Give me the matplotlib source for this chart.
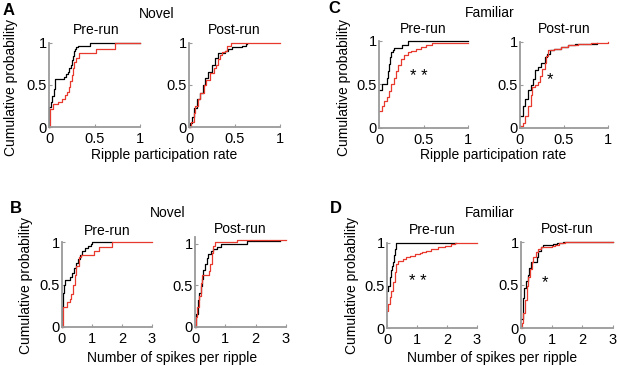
import matplotlib
matplotlib.use("Agg")
import matplotlib.pyplot as plt

plt.rcParams['font.family'] = ['Liberation Sans', 'DejaVu Sans']
plt.rcParams['font.size'] = 10

W, H = 617, 366

# ---- data (step points: x, cumulative probability) ----
# A: ripple participation rate, novel
a_pre_black_x = [0.0, 0.0, 0.02, 0.035, 0.05, 0.065, 0.17, 0.19, 0.21, 0.225, 0.24, 0.25, 0.26, 0.27, 0.285, 0.30, 0.32, 0.45, 1.0]
a_pre_black_y = [0.0, 0.24, 0.30, 0.37, 0.45, 0.57, 0.60, 0.63, 0.66, 0.70, 0.74, 0.80, 0.85, 0.90, 0.93, 0.95, 0.97, 1.0, 1.0]
a_pre_red_x = [0.0, 0.01, 0.045, 0.10, 0.14, 0.18, 0.20, 0.215, 0.235, 0.25, 0.265, 0.28, 0.30, 0.33, 0.52, 0.72, 1.0]
a_pre_red_y = [0.0, 0.22, 0.27, 0.30, 0.33, 0.38, 0.42, 0.48, 0.55, 0.62, 0.70, 0.77, 0.82, 0.88, 0.93, 1.0, 1.0]
a_post_black_x = [0.0, 0.01, 0.03, 0.06, 0.085, 0.12, 0.15, 0.175, 0.21, 0.25, 0.285, 0.32, 0.40, 0.43, 0.47, 0.58, 0.63, 0.64]
a_post_black_y = [0.0, 0.05, 0.12, 0.23, 0.33, 0.41, 0.50, 0.58, 0.66, 0.74, 0.82, 0.88, 0.90, 0.93, 0.95, 0.97, 0.99, 0.99]
a_post_red_x = [0.0, 0.02, 0.05, 0.065, 0.095, 0.12, 0.16, 0.19, 0.23, 0.27, 0.30, 0.32, 0.34, 0.36, 0.40, 0.42, 0.46, 1.0]
a_post_red_y = [0.0, 0.06, 0.17, 0.25, 0.33, 0.41, 0.50, 0.56, 0.64, 0.70, 0.74, 0.81, 0.86, 0.89, 0.91, 0.96, 1.0, 1.0]

# C: ripple participation rate, familiar
c_pre_black_x = [0.0, 0.03, 0.085, 0.10, 0.115, 0.125, 0.14, 0.155, 0.17, 0.26, 0.325, 1.0]
c_pre_black_y = [0.44, 0.50, 0.57, 0.65, 0.74, 0.82, 0.875, 0.90, 0.92, 0.955, 1.0, 1.0]
c_pre_red_x = [0.0, 0.03, 0.06, 0.085, 0.11, 0.14, 0.17, 0.195, 0.215, 0.245, 0.28, 0.325, 0.365, 0.42, 0.47, 0.53, 0.60, 1.0]
c_pre_red_y = [0.20, 0.25, 0.31, 0.36, 0.42, 0.50, 0.57, 0.655, 0.72, 0.79, 0.84, 0.875, 0.89, 0.91, 0.93, 0.95, 0.975, 0.975]
c_post_black_x = [0.0, 0.035, 0.06, 0.09, 0.12, 0.15, 0.175, 0.205, 0.24, 0.28, 0.31, 0.34, 0.39, 0.47, 0.55, 0.62, 0.87]
c_post_black_y = [0.14, 0.25, 0.34, 0.44, 0.50, 0.57, 0.67, 0.71, 0.75, 0.83, 0.86, 0.905, 0.92, 0.94, 0.96, 0.98, 0.99]
c_post_red_x = [0.0, 0.035, 0.06, 0.09, 0.12, 0.14, 0.17, 0.205, 0.23, 0.255, 0.28, 0.30, 0.32, 0.39, 0.47, 0.55, 0.66, 0.81, 1.0]
c_post_red_y = [0.02, 0.06, 0.14, 0.25, 0.38, 0.48, 0.50, 0.53, 0.61, 0.69, 0.76, 0.84, 0.905, 0.92, 0.94, 0.96, 0.98, 0.99, 1.0]

# B: spikes per ripple, novel
b_pre_black_x = [0.0, 0.0, 0.04, 0.07, 0.11, 0.25, 0.33, 0.40, 0.48, 0.53, 0.60, 0.66, 0.75, 0.86, 0.95, 1.0, 1.66]
b_pre_black_y = [0.0, 0.25, 0.40, 0.49, 0.55, 0.59, 0.63, 0.69, 0.75, 0.80, 0.85, 0.89, 0.93, 0.95, 0.98, 1.0, 1.0]
b_pre_red_x = [0.0, 0.02, 0.18, 0.25, 0.31, 0.37, 0.42, 0.48, 0.55, 0.64, 1.06, 1.22, 1.66, 3.0]
b_pre_red_y = [0.0, 0.24, 0.29, 0.33, 0.39, 0.49, 0.61, 0.72, 0.82, 0.85, 0.89, 0.94, 1.0, 1.0]
b_post_black_x = [0.0, 0.03, 0.09, 0.13, 0.20, 0.24, 0.28, 0.33, 0.38, 0.44, 0.52, 0.60, 0.71, 0.87, 1.72, 2.8]
b_post_black_y = [0.0, 0.16, 0.33, 0.41, 0.49, 0.575, 0.68, 0.76, 0.83, 0.875, 0.91, 0.94, 0.96, 1.0, 1.03, 1.03]
b_post_red_x = [0.0, 0.03, 0.08, 0.13, 0.20, 0.24, 0.33, 0.46, 0.49, 0.55, 0.60, 0.66, 1.40, 3.0]
b_post_red_y = [0.0, 0.12, 0.24, 0.37, 0.53, 0.62, 0.63, 0.67, 0.76, 0.89, 0.97, 1.02, 1.05, 1.05]

# D: spikes per ripple, familiar
d_pre_black_x = [0.0, 0.02, 0.10, 0.13, 0.17, 0.21, 0.24, 0.27, 0.31, 2.3]
d_pre_black_y = [0.43, 0.50, 0.60, 0.68, 0.73, 0.78, 0.86, 0.93, 1.0, 1.0]
d_pre_red_x = [0.0, 0.03, 0.09, 0.14, 0.20, 0.26, 0.31, 0.37, 0.53, 0.64, 0.76, 0.92, 1.09, 1.18, 1.31, 1.48, 1.70, 1.92, 2.14, 2.26, 3.0]
d_pre_red_y = [0.20, 0.28, 0.36, 0.44, 0.54, 0.66, 0.75, 0.79, 0.81, 0.83, 0.85, 0.87, 0.88, 0.89, 0.91, 0.93, 0.95, 0.97, 0.99, 1.0, 1.0]
d_post_black_x = [0.0, 0.05, 0.10, 0.16, 0.22, 0.26, 0.32, 0.51, 0.57, 0.64, 0.73, 0.84, 1.05, 1.16, 1.38, 3.0]
d_post_black_y = [0.10, 0.35, 0.47, 0.55, 0.62, 0.70, 0.77, 0.82, 0.90, 0.94, 0.96, 0.97, 0.98, 0.99, 1.0, 1.0]
d_post_red_x = [0.0, 0.03, 0.08, 0.13, 0.18, 0.24, 0.29, 0.35, 0.40, 0.49, 0.57, 0.64, 1.00, 1.10, 1.25, 1.43, 3.0]
d_post_red_y = [0.0, 0.06, 0.18, 0.33, 0.49, 0.59, 0.69, 0.77, 0.82, 0.88, 0.92, 0.94, 0.95, 0.97, 0.99, 0.995, 0.995]

rate_ticks = [0, 0.5, 1]
rate_labels = ['0', '0.5', '1']
spike_ticks = [0, 1, 2, 3]
spike_labels = ['0', '1', '2', '3']
prob_ticks = [0, 0.5, 1]
prob_labels = ['0', '0.5', '1']

RED = '#e8392e'
GREY = '#9a9a9a'

fig = plt.figure(figsize=(W / 100, H / 100), dpi=100)


def add_axes(x0, x1, y0, y1):
    # pixel box (left, right, top, bottom) -> figure fractions
    return fig.add_axes([x0 / W, 1 - y1 / H, (x1 - x0) / W, (y1 - y0) / H])


def ftext(x, y, s, **kw):
    fig.text(x / W, 1 - y / H, s, **kw)


def panel(box, bx, by, rx, ry, xticks, xlabels, ytop=1.0):
    ax = add_axes(*box)
    ax.step(bx, by, where='post', color='black', lw=0.9, clip_on=False)
    ax.step(rx, ry, where='post', color=RED, lw=0.9, clip_on=False)
    ax.set_xlim(xticks[0], xticks[-1])
    ax.set_ylim(0, ytop)
    ax.set_xticks(xticks)
    ax.set_xticklabels(xlabels)
    ax.set_yticks(prob_ticks)
    ax.set_yticklabels(prob_labels)
    for s in ['top', 'right']:
        ax.spines[s].set_visible(False)
    for s in ['left', 'bottom']:
        ax.spines[s].set_color(GREY)
        ax.spines[s].set_linewidth(1.3)
    ax.tick_params(direction='in', length=2.5, width=0.8, color=GREY,
                   labelsize=10.5)
    ax.tick_params(axis='x', pad=3.5)
    ax.tick_params(axis='y', pad=1.5)
    return ax


panel((49, 140, 43, 127), a_pre_black_x, a_pre_black_y, a_pre_red_x, a_pre_red_y, rate_ticks, rate_labels)
panel((189, 280, 43, 127), a_post_black_x, a_post_black_y, a_post_red_x, a_post_red_y, rate_ticks, rate_labels)
panel((379, 468, 41, 128), c_pre_black_x, c_pre_black_y, c_pre_red_x, c_pre_red_y, rate_ticks, rate_labels)
panel((520, 608, 42, 128), c_post_black_x, c_post_black_y, c_post_red_x, c_post_red_y, rate_ticks, rate_labels)
panel((62, 152, 242, 327), b_pre_black_x, b_pre_black_y, b_pre_red_x, b_pre_red_y, spike_ticks, spike_labels)
panel((195, 286, 237, 327), b_post_black_x, b_post_black_y, b_post_red_x, b_post_red_y, spike_ticks, spike_labels, ytop=1.08)
panel((387, 477, 243, 328), d_pre_black_x, d_pre_black_y, d_pre_red_x, d_pre_red_y, spike_ticks, spike_labels)
panel((521, 613, 242, 328), d_post_black_x, d_post_black_y, d_post_red_x, d_post_red_y, spike_ticks, spike_labels)

# subplot titles
for x, y, s in [(96, 34, 'Pre-run'), (234, 34, 'Post-run'),
                (423, 33, 'Pre-run'), (564, 33, 'Post-run'),
                (107, 235, 'Pre-run'), (240, 233, 'Post-run'),
                (432, 234, 'Pre-run'), (567, 233, 'Post-run')]:
    ftext(x, y, s, ha='center', va='baseline', fontsize=10)

# group headers
ftext(157, 18, 'Novel', ha='center', va='baseline')
ftext(490, 17, 'Familiar', ha='center', va='baseline')
ftext(168, 217, 'Novel', ha='center', va='baseline')
ftext(490, 217, 'Familiar', ha='center', va='baseline')

# panel letters
for x, y, s in [(3, 15, 'A'), (328, 13, 'C'), (10, 213, 'B'), (330, 213, 'D')]:
    ftext(x, y, s, ha='left', va='baseline', fontsize=12, fontweight='bold')

# axis labels
ftext(164, 159, 'Ripple participation rate', ha='center', va='baseline')
ftext(493, 159, 'Ripple participation rate', ha='center', va='baseline')
ftext(172, 362, 'Number of spikes per ripple', ha='center', va='baseline')
ftext(492, 362, 'Number of spikes per ripple', ha='center', va='baseline')
for x, y in [(11, 88), (26, 286), (344, 88), (352, 286)]:
    ftext(x, y, 'Cumulative probability', rotation=90, ha='center', va='center')

# significance marks
for x, y, s in [(419, 81, '* *'), (550, 84, '*'), (418, 286, '* *'), (545, 287, '*')]:
    ftext(x, y, s, ha='center', va='baseline', fontsize=12)

fig.savefig('out.png', dpi=100)
